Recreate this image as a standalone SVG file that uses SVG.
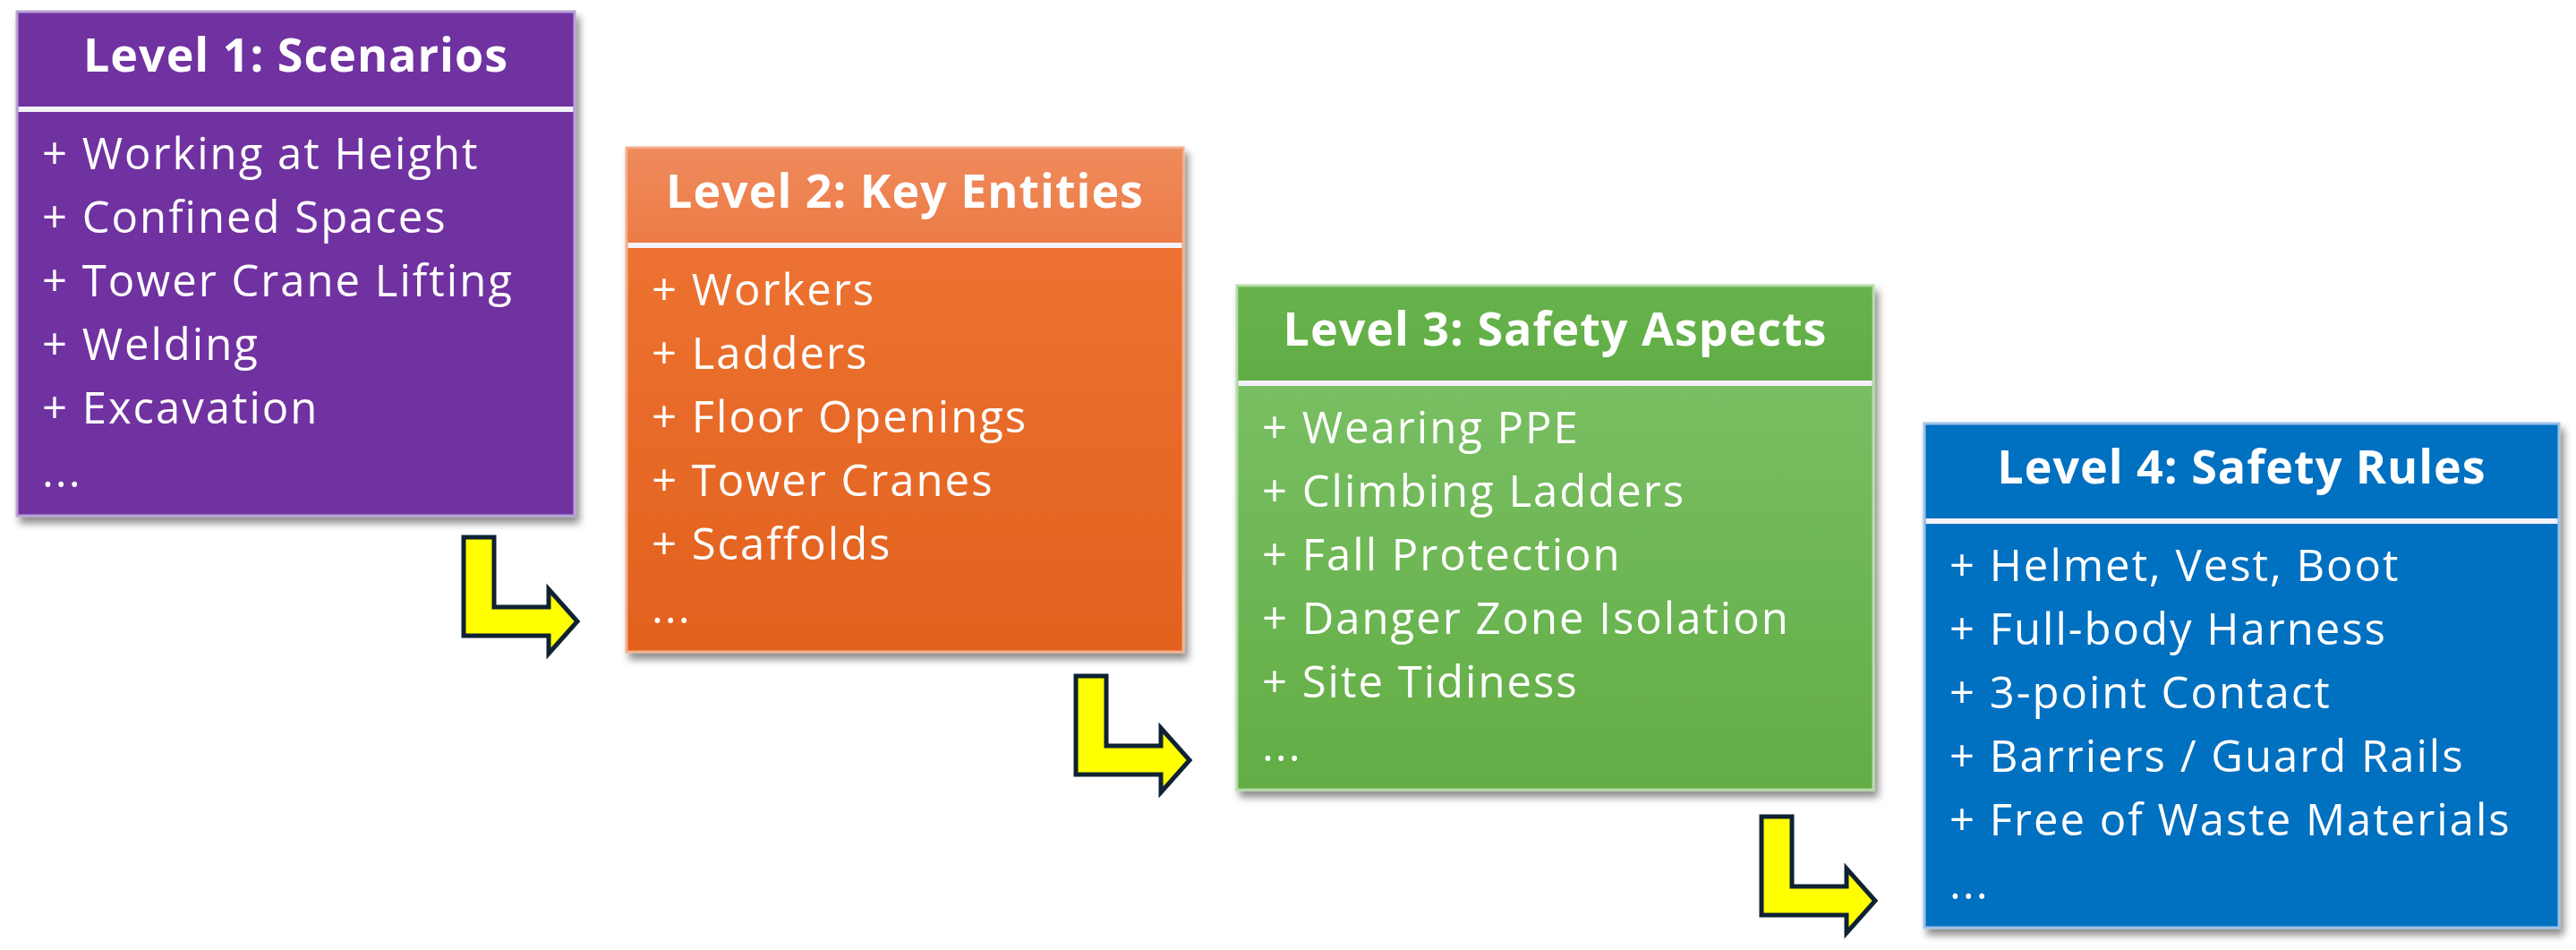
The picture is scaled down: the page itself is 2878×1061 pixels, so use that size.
<svg xmlns="http://www.w3.org/2000/svg" width="2878" height="1061" viewBox="0 0 2878 1061">
  <defs>
    <filter id="shadow" x="-5%" y="-5%" width="112%" height="115%">
      <feDropShadow dx="4" dy="7" stdDeviation="4" flood-color="#000000" flood-opacity="0.45"/>
    </filter>
    <linearGradient id="orHead" x1="0" y1="0" x2="0" y2="1">
      <stop offset="0" stop-color="#EF8A5C"/>
      <stop offset="1" stop-color="#EC7C46"/>
    </linearGradient>
    <linearGradient id="orBody" x1="0" y1="0" x2="0" y2="1">
      <stop offset="0" stop-color="#EF7636"/>
      <stop offset="1" stop-color="#E2611E"/>
    </linearGradient>
    <linearGradient id="grHead" x1="0" y1="0" x2="0" y2="1">
      <stop offset="0" stop-color="#67B24C"/>
      <stop offset="1" stop-color="#60AD45"/>
    </linearGradient>
    <linearGradient id="grBody" x1="0" y1="0" x2="0" y2="1">
      <stop offset="0" stop-color="#7EC36A"/>
      <stop offset="1" stop-color="#62AD45"/>
    </linearGradient>
    <path id="bentArrow" d="M0,0 H34 V78 H95 V58 L127,94 L95,130 V110 H0 Z"/>
  </defs>
  <style>
    .title { font-family: "Open Sans", "Liberation Sans", sans-serif; font-weight: 700; font-size: 52px; fill: #FFFFFF; text-anchor: middle; letter-spacing: 1px; }
    .item { font-family: "Open Sans", "Liberation Sans", sans-serif; font-weight: 400; font-size: 49px; fill: #FFFFFF; letter-spacing: 2px; }
    .sep { fill: #F4F2F8; }
    .arrow { fill: #FFFF00; stroke: #0E2233; stroke-width: 5; stroke-linejoin: miter; }
  </style>
  <rect width="2878" height="1061" fill="#FFFFFF"/>

  <g id="level1">
    <rect x="19" y="13" width="623" height="563" fill="#7030A0" stroke="#B6A2D4" stroke-width="3" filter="url(#shadow)"/>
    <rect x="20.5" y="119" width="620" height="6" class="sep"/>
    <text class="title" x="330.5" y="80">Level 1: Scenarios</text>
    <text class="item" x="47" y="189">+ Working at Height</text>
    <text class="item" x="47" y="260">+ Confined Spaces</text>
    <text class="item" x="47" y="331">+ Tower Crane Lifting</text>
    <text class="item" x="47" y="402">+ Welding</text>
    <text class="item" x="47" y="473">+ Excavation</text>
    <text class="item" x="47" y="544">...</text>
  </g>

  <g id="level2">
    <rect x="700" y="165" width="622" height="563" fill="url(#orBody)" stroke="#F3B08F" stroke-width="3" filter="url(#shadow)"/>
    <rect x="701.5" y="166.5" width="619" height="104.5" fill="url(#orHead)"/>
    <rect x="701.5" y="271" width="619" height="6" class="sep"/>
    <text class="title" x="1011" y="232">Level 2: Key Entities</text>
    <text class="item" x="728" y="341">+ Workers</text>
    <text class="item" x="728" y="412">+ Ladders</text>
    <text class="item" x="728" y="483">+ Floor Openings</text>
    <text class="item" x="728" y="554">+ Tower Cranes</text>
    <text class="item" x="728" y="625">+ Scaffolds</text>
    <text class="item" x="728" y="696">...</text>
  </g>

  <g id="level3">
    <rect x="1382" y="319" width="711" height="563" fill="url(#grBody)" stroke="#B5DBA6" stroke-width="3" filter="url(#shadow)"/>
    <rect x="1383.5" y="320.5" width="708" height="104.5" fill="url(#grHead)"/>
    <rect x="1383.5" y="425" width="708" height="6" class="sep"/>
    <text class="title" x="1737.5" y="386">Level 3: Safety Aspects</text>
    <text class="item" x="1410" y="495">+ Wearing PPE</text>
    <text class="item" x="1410" y="566">+ Climbing Ladders</text>
    <text class="item" x="1410" y="637">+ Fall Protection</text>
    <text class="item" x="1410" y="708">+ Danger Zone Isolation</text>
    <text class="item" x="1410" y="779">+ Site Tidiness</text>
    <text class="item" x="1410" y="850">...</text>
  </g>

  <g id="level4">
    <rect x="2150" y="473" width="709" height="563" fill="#0070C0" stroke="#9CC2E8" stroke-width="3" filter="url(#shadow)"/>
    <rect x="2151.5" y="579" width="706" height="6" class="sep"/>
    <text class="title" x="2504.5" y="540">Level 4: Safety Rules</text>
    <text class="item" x="2178" y="649">+ Helmet, Vest, Boot</text>
    <text class="item" x="2178" y="720">+ Full-body Harness</text>
    <text class="item" x="2178" y="791">+ 3-point Contact</text>
    <text class="item" x="2178" y="862">+ Barriers / Guard Rails</text>
    <text class="item" x="2178" y="933">+ Free of Waste Materials</text>
    <text class="item" x="2178" y="1004">...</text>
  </g>

  <g id="connectors">
    <use href="#bentArrow" class="arrow" transform="translate(518,600)"/>
    <use href="#bentArrow" class="arrow" transform="translate(1202,755)"/>
    <use href="#bentArrow" class="arrow" transform="translate(1968,912)"/>
  </g>
</svg>
